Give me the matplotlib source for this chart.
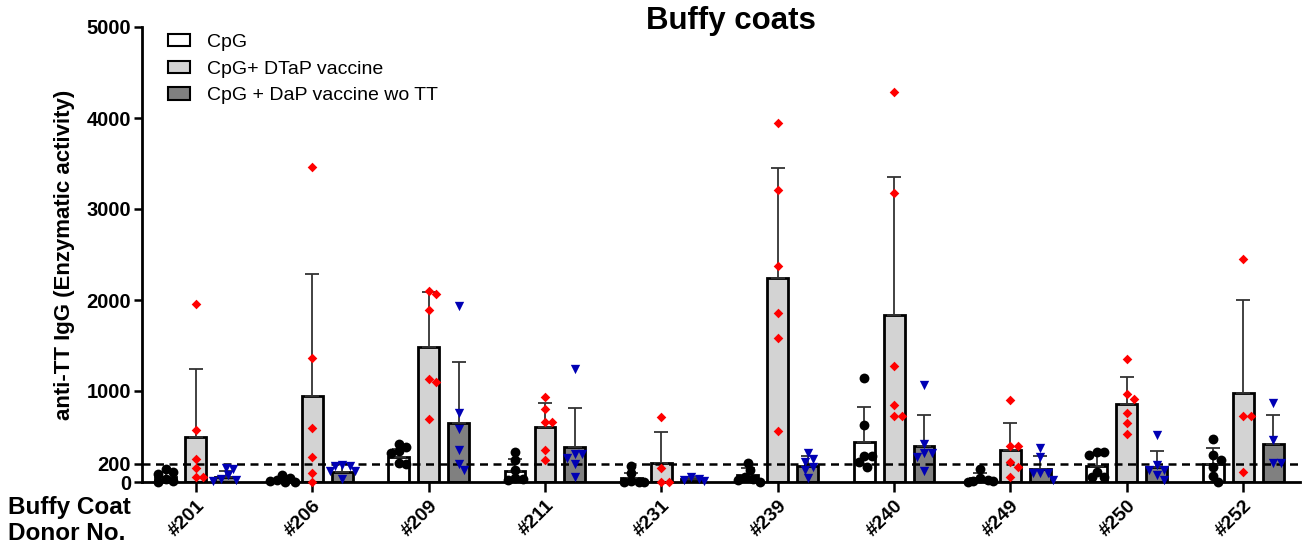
import numpy as np
import matplotlib
matplotlib.use("Agg")
import matplotlib.pyplot as plt
from matplotlib.patches import Patch

plt.rcParams['font.family'] = ['Liberation Sans', 'DejaVu Sans']

# donors
donors = ['#201', '#206', '#209', '#211', '#231', '#239', '#240', '#249', '#250', '#252']
series_names = ['CpG', 'CpG+ DTaP vaccine', 'CpG + DaP vaccine wo TT']

# CpG
cpg_mean = [55, 27, 280, 125, 40, 75, 445, 40, 180, 200]
cpg_sd = [55, 15, 80, 124, 62, 75, 383, 55, 124, 177]
cpg_pts = [
    [140, 110, 90, 30, 10, 5],
    [80, 40, 20, 15, 5, 5],
    [420, 390, 340, 315, 205, 195],
    [330, 240, 130, 40, 30, 20],
    [175, 95, 10, 5, 5, 5],
    [205, 130, 60, 30, 20, 5],
    [1146, 630, 290, 285, 216, 168],
    [140, 40, 20, 15, 10, 5],
    [335, 330, 297, 113, 58, 55],
    [470, 297, 242, 168, 66, 3],
]

# CpG + DTaP vaccine
dtap_mean = [500, 950, 1485, 600, 205, 2245, 1830, 348, 853, 980]
dtap_sd = [742, 1332, 607, 272, 348, 1206, 1522, 304, 297, 1016]
dtap_pts = [
    [1956, 571, 249, 157, 58, 58],
    [3462, 1363, 597, 271, 95, 3],
    [2099, 2066, 1890, 1128, 1103, 689],
    [938, 799, 656, 656, 352, 242],
    [711, 157, 3, 3],
    [3945, 3209, 2374, 1857, 1582, 564],
    [4286, 3176, 1275, 846, 729, 729],
    [901, 399, 399, 216, 161, 58],
    [1352, 963, 916, 762, 652, 524],
    [2447, 729, 729, 113],
]

# CpG + DaP vaccine wo TT
dap_mean = [58, 113, 645, 381, 32, 179, 399, 143, 161, 414]
dap_sd = [63, 85, 677, 429, 20, 107, 341, 146, 183, 322]
dap_pts = [
    [150, 145, 75, 30, 20, 15],
    [190, 180, 175, 125, 120, 30],
    [1938, 762, 579, 352, 194, 132],
    [1238, 310, 305, 260, 194, 58],
    [60, 35, 20, 15],
    [315, 250, 220, 168, 132, 40],
    [1066, 418, 315, 315, 278, 125],
    [377, 278, 95, 95, 95, 22],
    [516, 187, 132, 132, 77, 22],
    [865, 462, 205, 205],
]

threshold = 200
yticks = [0, 200, 1000, 2000, 3000, 4000, 5000]

W, H = 1307, 547
fig = plt.figure(figsize=(W / 100, H / 100), dpi=100)
ax = fig.add_axes([142 / W, 65 / H, (1300 - 142) / W, 455 / H])
ax.set_xlim(-0.4635, 9.489)
ax.set_ylim(0, 5000)

px_x = 1158 / (9.489 + 0.4635)   # pixels per x unit
px_y = 455 / 5000                 # pixels per y unit


def swarm(vals, diam=9.0):
    # simple beeswarm kept within the bar width, overlapping when crowded
    placed = []
    offs = []
    steps = [0.0]
    for k in range(1, 6):
        steps += [k * 2.5, -k * 2.5]
    for v in vals:
        yp = v * px_y
        best, best_d = 0.0, -1
        for s in steps:
            d = min([np.hypot(s - a, yp - b) for a, b in placed] + [99])
            if d >= diam * 0.8:
                best = s
                break
            if d > best_d:
                best, best_d = s, d
        placed.append((best, yp))
        offs.append(best / px_x)
    return np.array(offs)


x = np.arange(len(donors))
off = 0.2575
bw = 0.18
groups = [
    (cpg_mean, cpg_sd, cpg_pts, 'white', 'o', 'black', 50),
    (dtap_mean, dtap_sd, dtap_pts, '#d3d3d3', 'D', '#ff0000', 24),
    (dap_mean, dap_sd, dap_pts, '#808080', 'v', '#0000b4', 45),
]
for i, (mean, sd, pts, fc, mk, mc, ms) in enumerate(groups):
    xs = x + (i - 1) * off
    ax.bar(xs, mean, width=bw, color=fc, edgecolor='black', linewidth=2.0, zorder=2)
    ax.errorbar(xs, mean, yerr=[np.zeros(len(sd)), sd], fmt='none', ecolor='#333333',
                elinewidth=1.3, capsize=5, capthick=1.3, zorder=3)
    for xc, p in zip(xs, pts):
        ax.scatter(xc + swarm(p), p, marker=mk, color=mc, s=ms, linewidths=0,
                   zorder=5, clip_on=False)

ax.axhline(threshold, color='black', linestyle=(0, (3.2, 2.2)), linewidth=1.8, zorder=4)

for s in ['top', 'right']:
    ax.spines[s].set_visible(False)
for s in ['left', 'bottom']:
    ax.spines[s].set_linewidth(2.0)

ax.set_yticks(yticks)
ax.set_yticklabels([str(t) for t in yticks], fontsize=14.5, fontweight='bold')
ax.set_xticks(x)
ax.set_xticklabels(donors, fontsize=14, fontweight='bold', rotation=45,
                   ha='right', rotation_mode='anchor')
ax.tick_params(axis='both', direction='out', length=6, width=1.8, pad=2)
ax.tick_params(axis='x', length=7, pad=4)

fig.text(65 / W, 1 - 255 / H, 'anti-TT IgG (Enzymatic activity)', rotation=90,
         ha='center', va='center', fontsize=16, fontweight='bold')
fig.text(731 / W, 1 - 29 / H, 'Buffy coats', ha='center', va='baseline',
         fontsize=22.5, fontweight='bold')
fig.text(8 / W, 1 - 496 / H, 'Buffy Coat\nDonor No.', ha='left', va='top',
         fontsize=17.5, fontweight='bold', linespacing=1.15)

handles = [Patch(facecolor=g[3], edgecolor='black', linewidth=1.5) for g in groups]
ax.legend(handles, series_names, loc='upper left', bbox_to_anchor=(0.0225, 0.985),
          frameon=False, fontsize=14, handlelength=1.15, handleheight=0.6,
          handletextpad=0.85, labelspacing=0.5, borderpad=0, borderaxespad=0)

fig.savefig('out.png', dpi=100)
